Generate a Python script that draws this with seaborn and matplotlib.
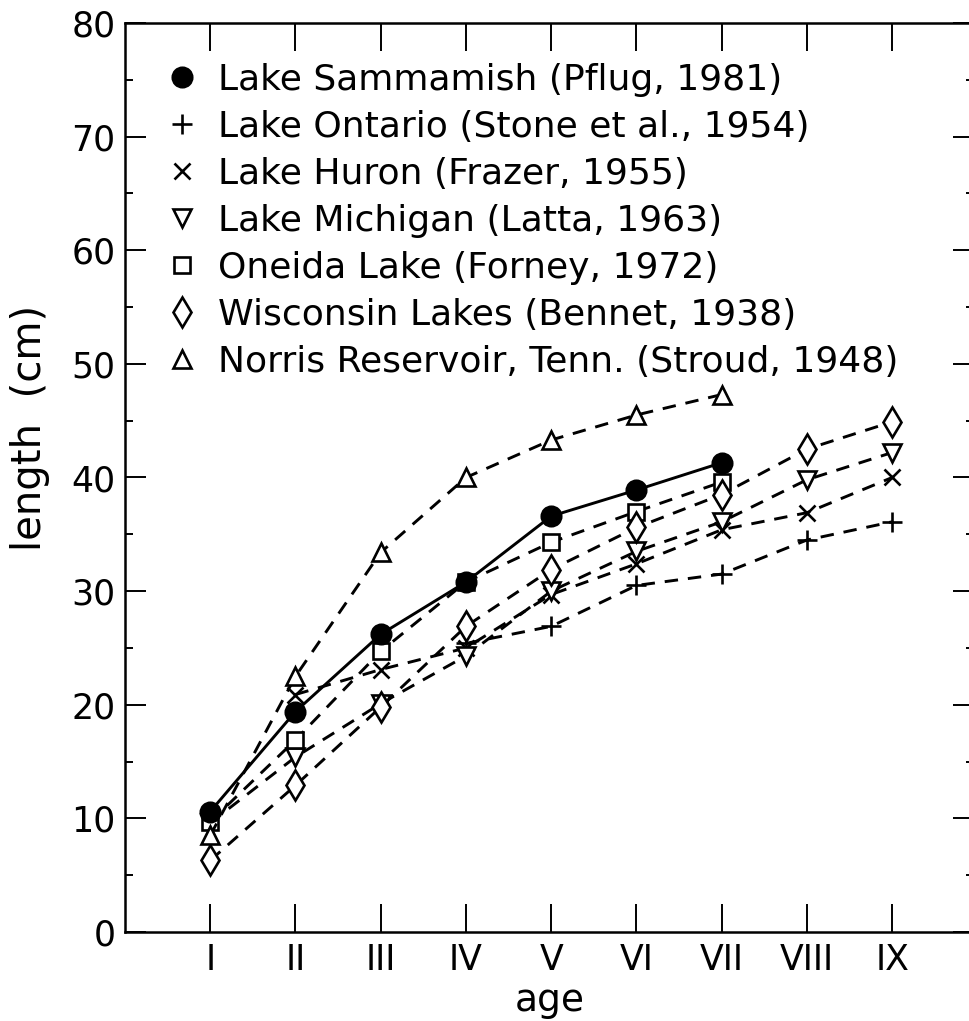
import numpy as np
import pandas as pd
import matplotlib
matplotlib.use("Agg")
import matplotlib.pyplot as plt
import seaborn as sns
from matplotlib.lines import Line2D
from matplotlib.ticker import MultipleLocator

# ---------------- data ----------------
age_labels = ["I", "II", "III", "IV", "V", "VI", "VII", "VIII", "IX"]
age_num = [1, 2, 3, 4, 5, 6, 7, 8, 9]

sammamish = [10.6, 19.4, 26.2, 30.8, 36.6, 38.9, 41.3, None, None]
ontario = [None, None, None, 25.4, 26.9, 30.5, 31.5, 34.5, 36.1]
huron = [None, 20.9, 23.1, 25.0, 29.7, 32.4, 35.4, 36.9, 40.0]
michigan = [9.6, 15.4, 20.1, 24.3, 30.0, 33.5, 36.1, 39.8, 42.2]
oneida = [9.7, 16.9, 24.7, 30.8, 34.3, 37.0, 39.6, None, None]
wisconsin = [6.3, 12.9, 19.8, 26.9, 31.9, 35.6, 38.5, 42.5, 44.9]
norris = [8.5, 22.5, 33.4, 40.0, 43.3, 45.5, 47.3, None, None]

lake_names = [
    "Lake Sammamish (Pflug, 1981)",
    "Lake Ontario (Stone et al., 1954)",
    "Lake Huron (Frazer, 1955)",
    "Lake Michigan (Latta, 1963)",
    "Oneida Lake (Forney, 1972)",
    "Wisconsin Lakes (Bennet, 1938)",
    "Norris Reservoir, Tenn. (Stroud, 1948)",
]
series = [sammamish, ontario, huron, michigan, oneida, wisconsin, norris]

rows = []
for name, vals in zip(lake_names, series):
    for a, v in zip(age_num, vals):
        if v is not None:
            rows.append({"age": a, "length": v, "lake": name})
df = pd.DataFrame(rows)

# ---------------- styles ----------------
marker_style = {
    lake_names[0]: dict(marker="o", ms=14, mfc="k"),
    lake_names[1]: dict(marker="+", ms=15, mfc="k"),
    lake_names[2]: dict(marker="x", ms=11, mfc="k"),
    lake_names[3]: dict(marker="v", ms=13, mfc="white"),
    lake_names[4]: dict(marker="s", ms=12, mfc="white"),
    lake_names[5]: dict(marker="d", ms=15, mfc="white"),
    lake_names[6]: dict(marker="^", ms=13, mfc="white"),
}

sns.set_style("white")
plt.rcParams["font.family"] = ["DejaVu Sans"]
plt.rcParams["text.color"] = "black"
plt.rcParams["axes.labelcolor"] = "black"
plt.rcParams["xtick.color"] = "black"
plt.rcParams["ytick.color"] = "black"

fig = plt.figure(figsize=(9.69, 10.21), dpi=100)
W, H = 969, 1021
left_px, right_px, top_px, bot_px = 125, 974, 23, 932
ax = fig.add_axes([left_px / W, (H - bot_px) / H,
                   (right_px - left_px) / W, (bot_px - top_px) / H])

dash = (0, (4.6, 3.4))
draw_order = lake_names[1:] + lake_names[:1]
for name in draw_order:
    sub = df[df["lake"] == name]
    st = marker_style[name]
    sns.lineplot(data=sub, x="age", y="length", ax=ax, sort=True,
                 estimator=None, errorbar=None, legend=False,
                 color="k", lw=2.1,
                 linestyle="-" if name == lake_names[0] else dash,
                 marker=st["marker"], ms=st["ms"], mfc=st["mfc"],
                 mec="k", mew=1.9)

ax.set_xlim(0, 9.96)
ax.set_ylim(0, 80)
ax.set_xticks(age_num)
ax.set_xticklabels(age_labels)
ax.yaxis.set_major_locator(MultipleLocator(10))
ax.yaxis.set_minor_locator(MultipleLocator(5))

ax.tick_params(axis="x", which="major", direction="in", length=20, width=1.4,
               top=True, bottom=True, pad=8, labelsize=25, colors="k")
ax.tick_params(axis="y", which="major", direction="in", length=15, width=1.4,
               left=True, right=True, pad=7, labelsize=25, colors="k")
ax.tick_params(axis="y", which="minor", direction="in", length=6, width=1.4,
               left=True, right=True, colors="k")

for sp in ax.spines.values():
    sp.set_color("k")
    sp.set_linewidth(1.8)

ax.set_xlabel("age", fontsize=27, labelpad=4, color="k")
ax.set_ylabel("length  (cm)", fontsize=29, color="k")
ax.yaxis.set_label_coords(-0.088, 0.554)

handles = []
for name in lake_names:
    st = marker_style[name]
    handles.append(Line2D([], [], linestyle="None", color="k",
                          marker=st["marker"], ms=st["ms"], mfc=st["mfc"],
                          mec="k", mew=1.9))
leg = ax.legend(handles, lake_names, loc="upper left",
                bbox_to_anchor=(0.046, 0.956), frameon=False, fontsize=26,
                borderaxespad=0, borderpad=0, handlelength=1.0,
                handletextpad=0.50, labelspacing=0.36)
for t in leg.get_texts():
    t.set_color("k")

fig.savefig("out.png", dpi=100)
